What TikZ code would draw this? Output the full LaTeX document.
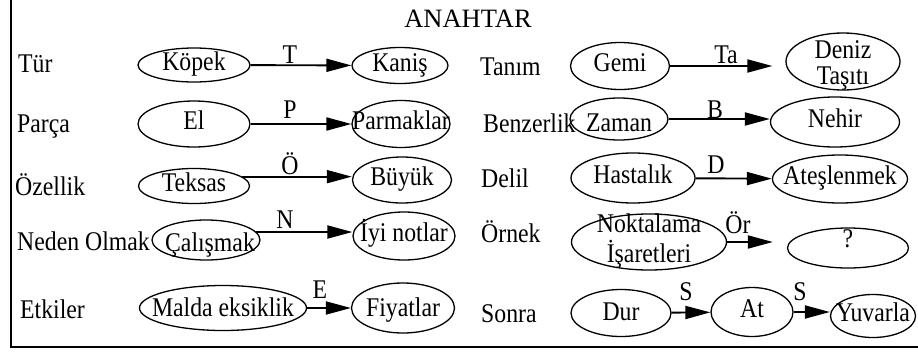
\documentclass[tikz,border=0pt]{standalone}
\usepackage{fontspec}
\setmainfont{Liberation Serif}[FakeStretch=0.88]
\newfontfamily\titlefont{Liberation Serif}
\usetikzlibrary{shapes.geometric,arrows.meta}
\newcommand\nt[2][0pt]{\makebox[0pt]{\raisebox{#1}{#2}}}
\newcommand\nn[2][0pt]{\makebox[0pt]{\raisebox{#1}{\begin{tabular}{@{}c@{}}#2\end{tabular}}}}
\begin{document}
\begin{tikzpicture}[x=1pt,y=-1pt,
  every node/.style={font=\fontsize{27pt}{26pt}\selectfont, inner sep=0pt},
  oval/.style 2 args={ellipse, draw, line width=1.3pt, text height=16.6pt, text depth=4.7pt,
    minimum width=#1pt, minimum height=#2pt},
  lbl/.style={anchor=base west},
  elbl/.style={anchor=base},
  arr/.style={line width=1.9pt, -{Triangle[length=25pt,width=13pt]}},
  frame/.style={line width=2pt}]
\useasboundingbox (0,0) rectangle (918,351);
\draw[frame] (11,0) -- (11,347) -- (918,347);
\node[anchor=base, font=\titlefont\fontsize{26.5pt}{30pt}\selectfont] (title) at (468,27) {ANAHTAR};

% left labels
\node[lbl] (ltur) at (18,72) {Tür};
\node[lbl] (lparca) at (17,132) {Parça};
\node[lbl] (lozel) at (15,195) {Özellik};
\node[lbl] (lneden) at (17,250) {Neden Olmak};
\node[lbl] (letki) at (20,318) {Etkiler};
% right labels
\node[lbl] (ltanim) at (480,75) {Tanım};
\node[lbl] (lbenz) at (483,132) {Benzerlik};
\node[lbl] (ldelil) at (481,187) {Delil};
\node[lbl] (lornek) at (481,242) {Örnek};
\node[lbl] (lsonra) at (481,322) {Sonra};

% left column ellipses
\node[oval={112}{34}] (kopek) at (194,65) {\nt{Köpek}};
\node[oval={96}{36}] (kanis) at (400,65.5) {\nt{Kaniş}};
\node[oval={112}{46}] (el) at (194,124) {\nt{El}};
\node[oval={98}{47}] (parm) at (401,124) {\nt{Parmaklar}};
\node[oval={111}{35}] (teksas) at (194,186) {\nt{Teksas}};
\node[oval={99}{46}] (buyuk) at (402,180) {\nt{Büyük}};
\node[oval={108}{40}] (calis) at (206,240) {\nt[-6pt]{\hspace{8pt}Çalışmak}};
\node[oval={102}{48}] (iyi) at (404,236) {\nt{İyi notlar}};
\node[oval={167}{45}] (malda) at (223,308) {\nt[-3pt]{Malda eksiklik}};
\node[oval={103}{50}] (fiyat) at (403,308) {\nt[-3pt]{Fiyatlar}};

% right column ellipses
\node[oval={99}{47}] (gemi) at (620,66) {\nt{Gemi}};
\node[oval={114}{57}] (deniz) at (843,61.5) {\nn[-5pt]{Deniz\\Taşıtı}};
\node[oval={98}{42}] (zaman) at (619,119) {\nt[-7pt]{Zaman}};
\node[oval={129}{50}] (nehir) at (835,122) {\nt{Nehir}};
\node[oval={124}{50}] (hasta) at (633,178) {\nt{Hastalık}};
\node[oval={135}{48}] (ates) at (840,179) {\nt{Ateşlenmek}};
\node[oval={155}{56}] (nokta) at (649,242) {\nn{Noktalama\\İşaretleri}};
\node[oval={121}{40}] (soru) at (848,248) {\nt[6pt]{?}};
\node[oval={100}{47}] (dur) at (621,313) {\nt[-2pt]{Dur}};
\node[oval={82}{49}] (at) at (752,312) {\nt{At}};
\node[oval={85}{43}] (yuv) at (873,316) {\nt{Yuvarla}};

% connectors
\draw[arr] (kopek) -- (kanis);
\draw[arr] (el) -- (parm);
\draw[arr] (teksas.11) -- (teksas.11 -| buyuk.west);
\draw[arr] (calis.9) -- (calis.9 -| iyi.west);
\draw[arr] (malda) -- (fiyat);
\draw[arr, shorten >=13pt] (gemi) -- (gemi -| deniz.west);
\draw[arr] (zaman) -- (zaman -| nehir.west);
\draw[arr] (hasta) -- (ates);
\draw[arr, shorten >=14pt] (nokta) -- (nokta -| soru.west);
\draw[arr] (dur) -- (at);
\draw[arr] (at) -- (at -| yuv.west);

% connector labels
\node[elbl] (et) at (290,63) {T};
\node[elbl] (ep) at (290,118) {P};
\node[elbl] (eo) at (290,174) {Ö};
\node[elbl] (en) at (285,228) {N};
\node[elbl] (ee) at (320,298) {E};
\node[elbl] (eta) at (726,63) {Ta};
\node[elbl] (eb) at (715,118) {B};
\node[elbl] (ed) at (716,173) {D};
\node[elbl] (eor) at (738,233) {Ör};
\node[elbl] (es1) at (686,300) {S};
\node[elbl] (es2) at (800,300) {S};
\end{tikzpicture}
\end{document}
